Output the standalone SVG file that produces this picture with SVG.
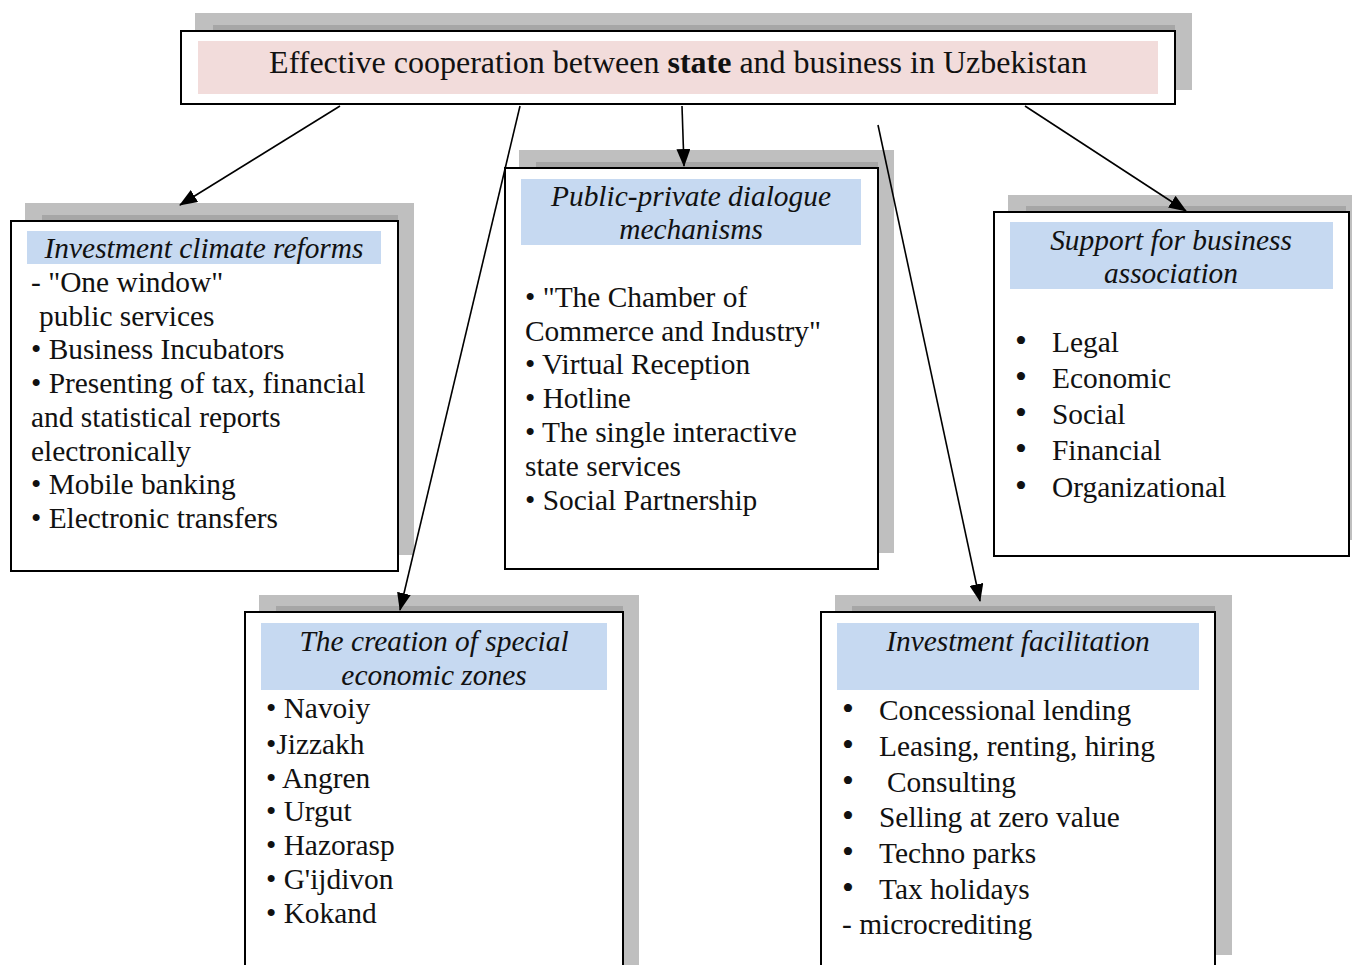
<svg xmlns="http://www.w3.org/2000/svg" width="1352" height="965" viewBox="0 0 1352 965">
<defs>
<style>
.sh1{fill:#bfbfbf}
.sh2{fill:#a6a6a6}
.box{fill:#fff;stroke:#000;stroke-width:2}
.hd{fill:#c6d9f1}
.t{font-size:29.4px;fill:#111}
.h{font-size:29.4px;font-style:italic;fill:#111;text-anchor:middle}
.b{font-size:34px}
.c{stroke:#000;stroke-width:1.6;fill:none;marker-end:url(#ah)}
</style>
<marker id="ah" markerWidth="18" markerHeight="14" refX="17" refY="7" orient="auto" markerUnits="userSpaceOnUse">
<path d="M0,0 L18,7 L0,14 Z" fill="#000"/>
</marker>
</defs>
<rect width="1352" height="965" fill="#fff"/>
<g font-family="Liberation Serif, 'Times New Roman', serif">
<g id="title">
<rect class="sh1" x="195" y="13" width="997" height="77"/>
<rect class="sh2" x="213" y="25" width="962" height="6"/>
<rect class="box" x="181" y="31" width="994" height="73"/>
<rect fill="#f2dcdb" x="198" y="41" width="960" height="53"/>
<text class="t" x="678" y="73" text-anchor="middle" style="font-size:32px">Effective cooperation between <tspan font-weight="bold">state</tspan> and business in Uzbekistan</text>
</g>

<g id="investment-climate">
<rect class="sh1" x="25" y="203" width="389" height="352"/>
<rect class="sh2" x="42" y="215" width="356" height="6"/>
<rect class="box" x="11" y="221" width="387" height="350"/>
<rect class="hd" x="27" y="231" width="354" height="33"/>
<text class="h" x="204" y="258">Investment climate reforms</text>
<text class="t" x="31" y="292">-  "One window"</text>
<text class="t" x="39" y="326">public services</text>
<text class="t" x="31" y="359">• Business Incubators</text>
<text class="t" x="31" y="393">• Presenting of tax, financial</text>
<text class="t" x="31" y="427">and statistical reports</text>
<text class="t" x="31" y="461">electronically</text>
<text class="t" x="31" y="494">• Mobile banking</text>
<text class="t" x="31" y="528">• Electronic transfers</text>
</g>

<g id="dialogue">
<rect class="sh1" x="519" y="150" width="375" height="403"/>
<rect class="sh2" x="536" y="162" width="342" height="6"/>
<rect class="box" x="505" y="168" width="373" height="401"/>
<rect class="hd" x="521" y="179" width="340" height="66"/>
<text class="h" x="691" y="206">Public-private dialogue</text>
<text class="h" x="691" y="239">mechanisms</text>
<text class="t" x="525" y="307">• "The Chamber of</text>
<text class="t" x="525" y="341">Commerce and Industry"</text>
<text class="t" x="525" y="374">• Virtual Reception</text>
<text class="t" x="525" y="408">• Hotline</text>
<text class="t" x="525" y="442">• The single interactive</text>
<text class="t" x="525" y="476">state services</text>
<text class="t" x="525" y="510">• Social Partnership</text>
</g>

<g id="business-association">
<rect class="sh1" x="1008" y="195" width="344" height="345"/>
<rect class="sh2" x="1026" y="206" width="320" height="6"/>
<rect class="box" x="994" y="212" width="355" height="344"/>
<rect class="hd" x="1010" y="222" width="323" height="67"/>
<text class="h" x="1171" y="250">Support for business</text>
<text class="h" x="1171" y="283">association</text>
<text class="t" y="352"><tspan class="b" x="1015">•</tspan><tspan x="1052">Legal</tspan></text>
<text class="t" y="388"><tspan class="b" x="1015">•</tspan><tspan x="1052">Economic</tspan></text>
<text class="t" y="424"><tspan class="b" x="1015">•</tspan><tspan x="1052">Social</tspan></text>
<text class="t" y="460"><tspan class="b" x="1015">•</tspan><tspan x="1052">Financial</tspan></text>
<text class="t" y="497"><tspan class="b" x="1015">•</tspan><tspan x="1052">Organizational</tspan></text>
</g>

<g id="special-zones">
<rect class="sh1" x="259" y="595" width="380" height="370"/>
<rect class="sh2" x="276" y="606" width="347" height="6"/>
<rect class="box" x="245" y="612" width="378" height="360"/>
<rect class="hd" x="261" y="623" width="346" height="67"/>
<text class="h" x="434" y="651">The creation of special</text>
<text class="h" x="434" y="685">economic zones</text>
<text class="t" x="266" y="718">• Navoiy</text>
<text class="t" x="266" y="754">•Jizzakh</text>
<text class="t" x="266" y="788">• Angren</text>
<text class="t" x="266" y="821">• Urgut</text>
<text class="t" x="266" y="855">• Hazorasp</text>
<text class="t" x="266" y="889">• G'ijdivon</text>
<text class="t" x="266" y="923">• Kokand</text>
</g>

<g id="investment-facilitation">
<rect class="sh1" x="835" y="595" width="397" height="360"/>
<rect class="sh2" x="852" y="606" width="363" height="6"/>
<rect class="box" x="821" y="612" width="394" height="360"/>
<rect class="hd" x="837" y="623" width="362" height="67"/>
<text class="h" x="1018" y="651">Investment facilitation</text>
<text class="t" y="720"><tspan class="b" x="842">•</tspan><tspan x="879">Concessional lending</tspan></text>
<text class="t" y="756"><tspan class="b" x="842">•</tspan><tspan x="879">Leasing, renting, hiring</tspan></text>
<text class="t" y="792"><tspan class="b" x="842">•</tspan><tspan x="887">Consulting</tspan></text>
<text class="t" y="827"><tspan class="b" x="842">•</tspan><tspan x="879">Selling at zero value</tspan></text>
<text class="t" y="863"><tspan class="b" x="842">•</tspan><tspan x="879">Techno parks</tspan></text>
<text class="t" y="899"><tspan class="b" x="842">•</tspan><tspan x="879">Tax holidays</tspan></text>
<text class="t" x="842" y="934">- microcrediting</text>
</g>
</g>

<g id="connectors">
<line class="c" x1="340" y1="106" x2="180" y2="205"/>
<line class="c" x1="520" y1="106" x2="400" y2="610"/>
<line class="c" x1="682" y1="106" x2="684" y2="166"/>
<line class="c" x1="878" y1="125" x2="980" y2="601"/>
<line class="c" x1="1025" y1="106" x2="1186" y2="211"/>
</g>
</svg>
